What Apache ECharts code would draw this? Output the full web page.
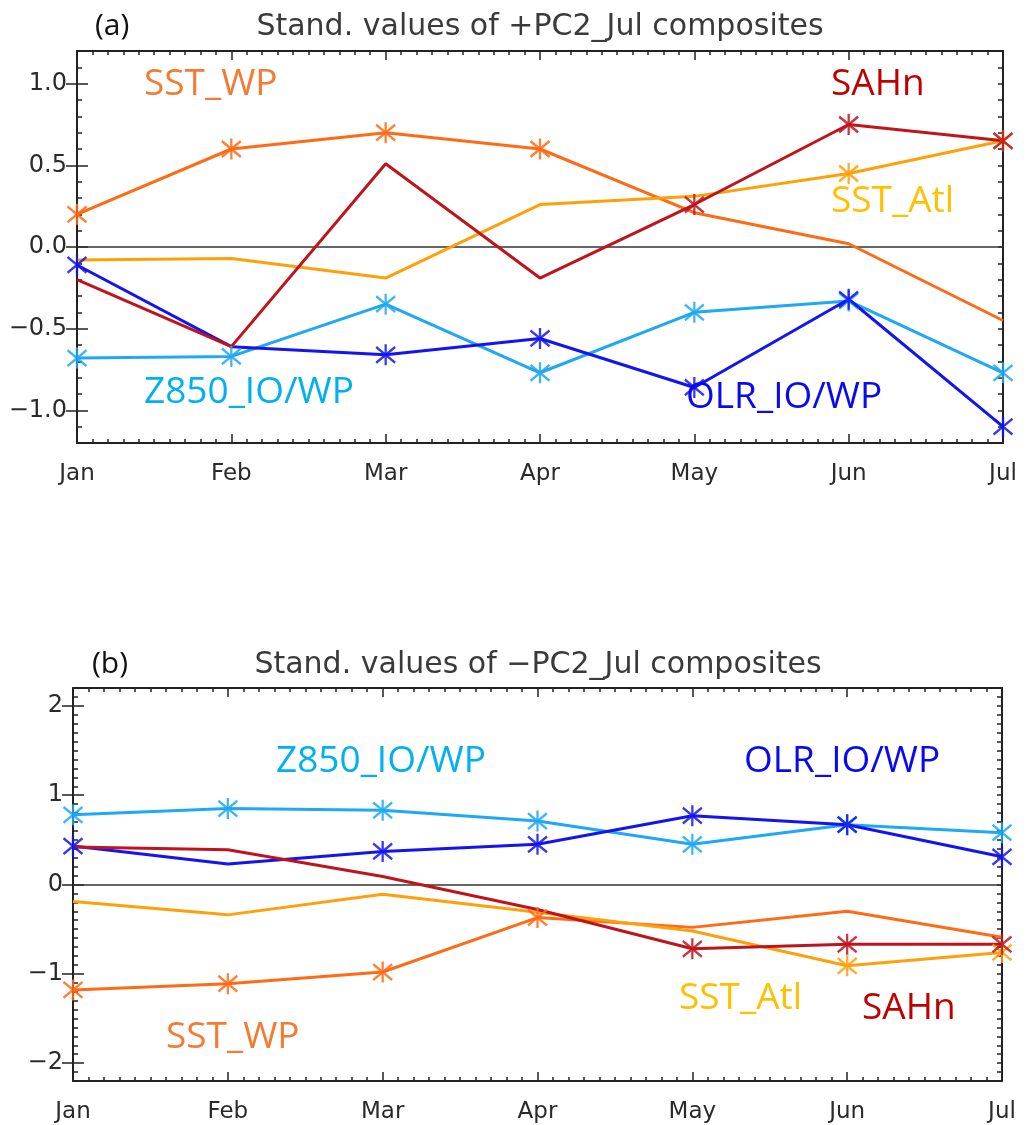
<!DOCTYPE html>
<html>
<head>
<meta charset="utf-8">
<script src="https://cdn.jsdelivr.net/npm/echarts@6/dist/echarts.min.js"></script>
<style>
html,body{margin:0;padding:0;background:#fff;}
#chart{width:1029px;height:1125px;}
</style>
</head>
<body>
<div id="chart"></div>
<script>
// ---------- data ----------
const months = ['Jan','Feb','Mar','Apr','May','Jun','Jul'];

// panel (a): +PC2_Jul composites
const a_SST_WP  = [0.20, 0.60, 0.70, 0.60, 0.21, 0.02, -0.45];
const a_SST_Atl = [-0.08, -0.07, -0.19, 0.26, 0.31, 0.45, 0.65];
const a_SAHn    = [-0.20, -0.61, 0.51, -0.19, 0.26, 0.75, 0.65];
const a_Z850    = [-0.68, -0.67, -0.35, -0.77, -0.40, -0.33, -0.77];
const a_OLR     = [-0.11, -0.61, -0.66, -0.56, -0.86, -0.32, -1.10];
// asterisk markers (1 = marked)
const a_SST_WP_mk  = [1,1,1,1,0,0,0];
const a_SST_Atl_mk = [0,0,0,0,0,1,1];
const a_SAHn_mk    = [0,0,0,0,1,1,1];
const a_Z850_mk    = [1,1,1,1,1,1,1];
const a_OLR_mk     = [1,0,1,1,1,1,1];

// panel (b): -PC2_Jul composites
const b_SST_WP  = [-1.18, -1.11, -0.98, -0.37, -0.48, -0.30, -0.59];
const b_SST_Atl = [-0.19, -0.34, -0.11, -0.31, -0.52, -0.91, -0.76];
const b_SAHn    = [0.42, 0.39, 0.09, -0.28, -0.72, -0.67, -0.67];
const b_Z850    = [0.78, 0.85, 0.83, 0.71, 0.45, 0.67, 0.58];
const b_OLR     = [0.43, 0.23, 0.37, 0.45, 0.77, 0.67, 0.31];
const b_SST_WP_mk  = [1,1,1,1,0,0,0];
const b_SST_Atl_mk = [0,0,0,0,0,1,1];
const b_SAHn_mk    = [0,0,0,0,1,1,1];
const b_Z850_mk    = [1,1,1,1,1,1,1];
const b_OLR_mk     = [1,0,1,1,1,1,1];

// tick labels
const a_yLabels = [-1.0, -0.5, 0.0, 0.5, 1.0];
const b_yLabels = [-2, -1, 0, 1, 2];

// ---------- styles ----------
const COL = {
  SST_WP:  {line:'#FF6A14', text:'#F57A32'},
  SST_Atl: {line:'#FFA00A', text:'#FFC000'},
  SAHn:    {line:'#C0141C', text:'#C00000'},
  Z850:    {line:'#1EA8F5', text:'#00B0F0'},
  OLR:     {line:'#1414EE', text:'#0A0AF0'}
};
const STAR = 'path://M0,-8L0,8M-7,-6L7,6M-7,6L7,-6';
const TICKFONT = 'DejaVu Sans';
const LABFONT = '"Open Sans", "Noto Sans", sans-serif';
const AXC = '#222';

function xAxes(gridIndex, pos) {
  return {
    type:'value', gridIndex, position:pos, min:0, max:6, interval:1,
    axisLine:{show:true, onZero:false, lineStyle:{color:AXC, width:2}},
    axisTick:{show:true, inside:true, length:9, lineStyle:{color:AXC, width:1.5}},
    minorTick:{show:true, splitNumber:10, length:4, lineStyle:{color:AXC, width:1.5}},
    splitLine:{show:false}, minorSplitLine:{show:false},
    axisLabel:{show: pos==='bottom', margin:20, fontFamily:TICKFONT, fontSize:23, color:'#2a2a2a',
      formatter: v => months[Math.round(v)] || ''}
  };
}
function yAxes(gridIndex, pos, min, max, labels, fmt, withLabels) {
  const shortAx = {
    type:'value', gridIndex, position:pos, min, max, interval:0.1,
    axisLine:{show:true, onZero:false, lineStyle:{color:AXC, width:2}},
    axisTick:{show:true, inside:true, length:5, lineStyle:{color:AXC, width:1.5}},
    splitLine:{show:false},
    axisLabel:{show: withLabels, customValues: labels, margin:10, fontFamily:TICKFONT, fontSize:24, color:'#2a2a2a', formatter: fmt}
  };
  const longAx = {
    type:'value', gridIndex, position:pos, min, max,
    axisLine:{show:false},
    axisTick:{show:true, inside:true, length:11, customValues: labels, lineStyle:{color:AXC, width:1.5}},
    splitLine:{show:false},
    axisLabel:{show:false}
  };
  return [shortAx, longAx];
}

const fmtA = v => (Math.abs(v) < 1e-9 ? '0.0' : v.toFixed(1)).replace('-', '\u2212');
const fmtB = v => String(Math.round(v)).replace('-', '\u2212');

const xAxis = [xAxes(0,'bottom'), xAxes(0,'top'), xAxes(1,'bottom'), xAxes(1,'top')];
const yAxis = [
  ...yAxes(0,'left', -1.2, 1.2, a_yLabels, fmtA, true),   // 0,1
  ...yAxes(0,'right', -1.2, 1.2, a_yLabels, fmtA, false), // 2,3
  ...yAxes(1,'left', -2.2, 2.2, b_yLabels, fmtB, true),   // 4,5
  ...yAxes(1,'right', -2.2, 2.2, b_yLabels, fmtB, false)  // 6,7
];

function mkSeries(name, vals, marks, col, xi, yi, zeroLine) {
  const s = {
    type:'line', name, xAxisIndex:xi, yAxisIndex:yi,
    data: vals.map((v,i) => ({value:[i, v], symbol: marks[i] ? STAR : 'none'})),
    symbolSize:[19,21],
    showAllSymbol:true,
    lineStyle:{color:col, width:3},
    itemStyle:{color:col, borderColor:col, borderWidth:2.4, opacity:0.85},
    emphasis:{disabled:true},
    z:3
  };
  if (zeroLine) {
    s.markLine = {silent:true, symbol:'none', label:{show:false},
      lineStyle:{color:'#333', width:1.5, type:'solid'}, data:[{yAxis:0}], z:1};
  }
  return s;
}

const series = [
  mkSeries('a_SST_WP', a_SST_WP, a_SST_WP_mk, COL.SST_WP.line, 0, 0, true),
  mkSeries('a_SST_Atl', a_SST_Atl, a_SST_Atl_mk, COL.SST_Atl.line, 0, 0),
  mkSeries('a_Z850', a_Z850, a_Z850_mk, COL.Z850.line, 0, 0),
  mkSeries('a_OLR', a_OLR, a_OLR_mk, COL.OLR.line, 0, 0),
  mkSeries('a_SAHn', a_SAHn, a_SAHn_mk, COL.SAHn.line, 0, 0),
  mkSeries('b_SST_WP', b_SST_WP, b_SST_WP_mk, COL.SST_WP.line, 2, 4, true),
  mkSeries('b_SST_Atl', b_SST_Atl, b_SST_Atl_mk, COL.SST_Atl.line, 2, 4),
  mkSeries('b_Z850', b_Z850, b_Z850_mk, COL.Z850.line, 2, 4),
  mkSeries('b_OLR', b_OLR, b_OLR_mk, COL.OLR.line, 2, 4),
  mkSeries('b_SAHn', b_SAHn, b_SAHn_mk, COL.SAHn.line, 2, 4)
];

function txt(text, x, y, color, size, font, align) {
  return {type:'text', x, y, z:10, silent:true,
    style:{text, fill:color, fontSize:size, fontFamily:font, textAlign:align||'left', textVerticalAlign:'middle'}};
}

const graphic = [
  txt('(a)', 95, 26, '#111', 30, LABFONT),
  txt('Stand. values of +PC2_Jul composites', 540, 27, '#3a3a3a', 30, TICKFONT, 'center'),
  txt('(b)', 92, 664, '#111', 30, LABFONT),
  txt('Stand. values of \u2212PC2_Jul composites', 538, 665, '#3a3a3a', 30, TICKFONT, 'center'),
  // panel (a) series labels
  txt('SST_WP', 144, 84, COL.SST_WP.text, 37, LABFONT),
  txt('SAHn', 831, 84, COL.SAHn.text, 37, LABFONT),
  txt('SST_Atl', 831, 201, COL.SST_Atl.text, 37, LABFONT),
  txt('Z850_IO/WP', 144, 392, COL.Z850.text, 37, LABFONT),
  txt('OLR_IO/WP', 686, 397, COL.OLR.text, 37, LABFONT),
  // panel (b) series labels
  txt('Z850_IO/WP', 276, 761, COL.Z850.text, 37, LABFONT),
  txt('OLR_IO/WP', 744, 761, COL.OLR.text, 37, LABFONT),
  txt('SST_WP', 166, 1037, COL.SST_WP.text, 37, LABFONT),
  txt('SST_Atl', 679, 998, COL.SST_Atl.text, 37, LABFONT),
  txt('SAHn', 862, 1008, COL.SAHn.text, 37, LABFONT)
];

const chart = echarts.init(document.getElementById('chart'), null, {renderer:'canvas'});
chart.setOption({
  animation:false,
  backgroundColor:'#fff',
  grid:[
    {left:77, top:51, width:926, height:392},
    {left:73, top:688, width:929, height:393}
  ],
  xAxis, yAxis, series, graphic
});
</script>
</body>
</html>
